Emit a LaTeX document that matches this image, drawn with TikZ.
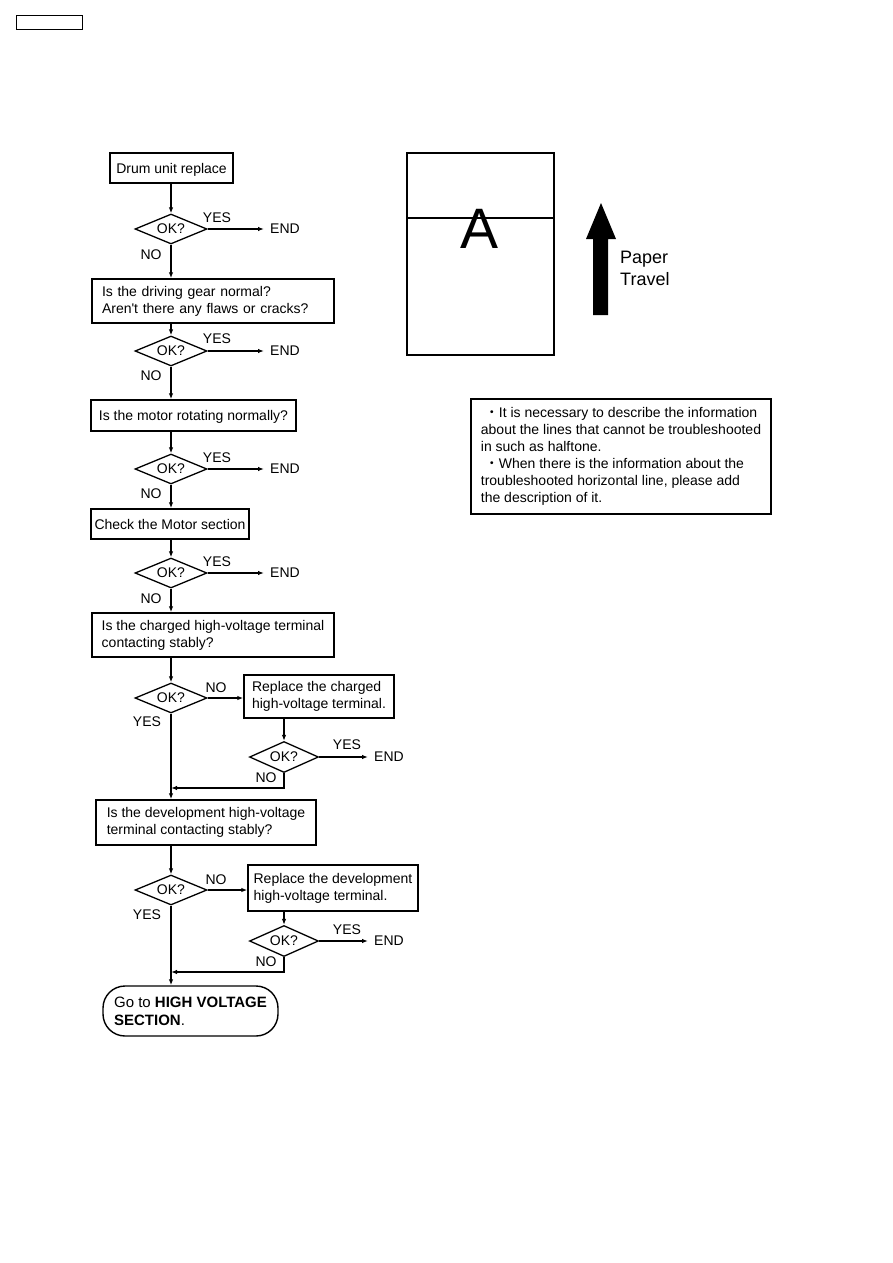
\documentclass[tikz,border=0pt]{standalone}
\usepackage{fontspec}
\setmainfont{Liberation Sans}
\newfontfamily\cjk{Noto Sans CJK JP}
\usetikzlibrary{shapes.geometric,arrows.meta}
\begin{document}
\begin{tikzpicture}[x=1pt,y=-1pt,
 every node/.style={font=\fontsize{14}{17}\selectfont},
 fbox/.style={draw,line width=1.4pt,align=left,inner sep=0pt},
 one/.style={text depth=0pt},
 dia/.style={draw,diamond,aspect=2.4,line width=1.3pt,minimum width=72pt,minimum height=30pt,inner sep=0pt},
 lbl/.style={inner sep=0pt},
 endn/.style={inner xsep=6pt,inner ysep=0pt,anchor=west},
 conn/.style={line width=1.2pt},
 arr/.style={conn,-{Latex[length=6pt,width=4.5pt]}}]
\useasboundingbox (0,0) rectangle (893,1263);

% header box
\node[draw,line width=1pt,minimum width=66pt,minimum height=14pt,inner sep=0pt] (hdr) at (49,23) {};

% boxes
\node[fbox,one,minimum width=123pt,minimum height=30pt] (b1) at (171.5,168) {Drum unit replace};
\node[fbox,text width=222pt,inner xsep=10pt,minimum height=44pt] (b2) at (213,301) {Is the driving gear normal?\\Aren\textquotesingle t there any flaws or cracks?};
\node[fbox,one,minimum width=205pt,minimum height=31pt] (b3) at (193.5,415.5) {Is the motor rotating normally?};
\node[fbox,one,minimum width=158pt,minimum height=30pt] (b4) at (170,524) {Check the Motor section};
\node[fbox,minimum width=242pt,minimum height=44pt] (b5) at (213,635) {Is the charged high-voltage terminal\\contacting stably?};
\node[fbox,minimum width=150pt,minimum height=43pt] (b6) at (319,696.5) {Replace the charged\\high-voltage terminal.};
\node[fbox,minimum width=220pt,minimum height=45pt] (b7) at (206,822.5) {Is the development high-voltage\\terminal contacting stably?};
\node[fbox,minimum width=170pt,minimum height=46pt] (b8) at (333,888) {Replace the development\\high-voltage terminal.};
\node[fbox,rounded corners=22pt,minimum width=175pt,minimum height=50pt,font=\fontsize{15}{18}\selectfont] (term) at (190.5,1011) {Go to \textbf{HIGH VOLTAGE}\\\textbf{SECTION}.};

% diamonds
\node[dia] (d1) at (171,229) {OK?};
\node[dia] (d2) at (171,351) {OK?};
\node[dia] (d3) at (171,469) {OK?};
\node[dia] (d4) at (171,573) {OK?};
\node[dia] (d5) at (171,698) {OK?};
\node[dia,minimum width=69pt,minimum height=31pt] (d6) at (284,757) {OK?};
\node[dia] (d7) at (171,890) {OK?};
\node[dia,minimum width=69pt,minimum height=31pt] (d8) at (284,941) {OK?};

% END nodes
\node[endn] (e1) at (264,229) {END};
\node[endn] (e2) at (264,351) {END};
\node[endn] (e3) at (264,469) {END};
\node[endn] (e4) at (264,573) {END};
\node[endn] (e6) at (368,757) {END};
\node[endn] (e8) at (368,941) {END};

% labels
\node[lbl] (y1) at (217,218) {YES};
\node[lbl] (y2) at (217,339) {YES};
\node[lbl] (y3) at (217,458) {YES};
\node[lbl] (y4) at (217,562) {YES};
\node[lbl] (n5) at (216,688) {NO};
\node[lbl] (y6) at (347,745) {YES};
\node[lbl] (n7) at (216,880) {NO};
\node[lbl] (y8) at (347,930) {YES};
\node[lbl] (n1) at (151,255) {NO};
\node[lbl] (n2) at (151,376) {NO};
\node[lbl] (n3) at (151,494) {NO};
\node[lbl] (n4) at (151,599) {NO};
\node[lbl] (y5) at (147,722) {YES};
\node[lbl] (y7) at (147,915) {YES};
\node[lbl] (n6) at (266,778) {NO};
\node[lbl] (n8) at (266,962) {NO};

\coordinate (m1) at (171,788);
\coordinate (m2) at (171,972);

% connectors
\draw[arr] (d1.north |- b1.south) -- (d1.north);
\draw[arr] (d1.east) -- (d1.east -| e1.west);
\draw[arr] (d1.south) -- (d1.south |- b2.north);
\draw[arr] (d2.north |- b2.south) -- (d2.north);
\draw[arr] (d2.east) -- (d2.east -| e2.west);
\draw[arr] (d2.south) -- (d2.south |- b3.north);
\draw[arr] (d3.north |- b3.south) -- (d3.north);
\draw[arr] (d3.east) -- (d3.east -| e3.west);
\draw[arr] (d3.south) -- (d3.south |- b4.north);
\draw[arr] (d4.north |- b4.south) -- (d4.north);
\draw[arr] (d4.east) -- (d4.east -| e4.west);
\draw[arr] (d4.south) -- (d4.south |- b5.north);
\draw[arr] (d5.north |- b5.south) -- (d5.north);
\draw[arr] (d5.east) -- (d5.east -| b6.west);
\draw[arr] (d6.north |- b6.south) -- (d6.north);
\draw[arr] (d6.east) -- (d6.east -| e6.west);
\draw[arr] (d6.south) |- (m1);
\draw[arr] (d5.south) -- (d5.south |- b7.north);
\draw[arr] (d7.north |- b7.south) -- (d7.north);
\draw[arr] (d7.east) -- (d7.east -| b8.west);
\draw[arr] (d8.north |- b8.south) -- (d8.north);
\draw[arr] (d8.east) -- (d8.east -| e8.west);
\draw[arr] (d8.south) |- (m2);
\draw[arr] (d7.south) -- (d7.south |- term.north);

% paper diagram
\node[draw,line width=1.3pt,minimum width=147pt,minimum height=202pt,inner sep=0pt] (pg) at (480.5,254) {};
\draw[line width=1.1pt] (pg.west |- 0,218) -- (pg.east |- 0,218);
\node[font=\fontsize{57}{60}\selectfont,anchor=base,inner sep=0pt] (A) at (480,248) {A};
\fill (593,315) -- (593,239) -- (586,239) -- (601,203) -- (616,239) -- (608,239) -- (608,315) -- cycle;
\node[font=\fontsize{18}{22}\selectfont,align=left,anchor=west,inner sep=0pt] (pt) at (620,268) {Paper\\Travel};

% note box
\node[draw,line width=1.3pt,minimum width=300pt,minimum height=115pt,align=left,inner sep=0pt] (note) at (621,456.5)
{\hspace*{4pt}{\cjk ・}It is necessary to describe the information\\
about the lines that cannot be troubleshooted\\
in such as halftone.\\
\hspace*{4pt}{\cjk ・}When there is the information about the\\
troubleshooted horizontal line, please add\\
the description of it.};
\end{tikzpicture}
\end{document}
